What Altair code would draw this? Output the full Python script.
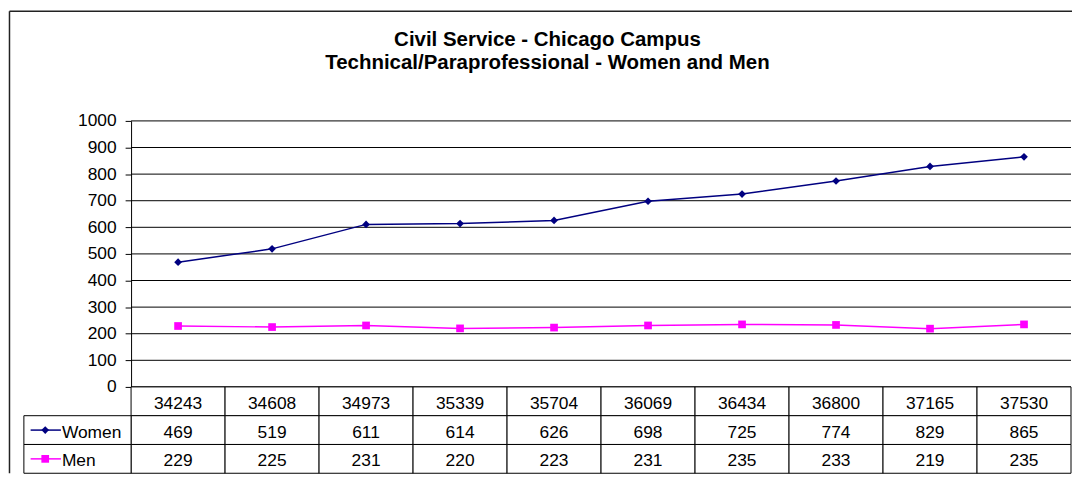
import altair as alt
import pandas as pd

# ---- data ----
years = ["34243", "34608", "34973", "35339", "35704", "36069", "36434", "36800", "37165", "37530"]
women = [469, 519, 611, 614, 626, 698, 725, 774, 829, 865]
men = [229, 225, 231, 220, 223, 231, 235, 233, 219, 235]
series_names = ["Women", "Men"]
series_colors = ["#000080", "#FF00FF"]
series_shapes = ["diamond", "square"]
y_ticks = list(range(0, 1001, 100))
title_lines = ["Civil Service - Chicago Campus", "Technical/Paraprofessional - Women and Men"]

# ---- layout constants ----
FONT = "Liberation Sans"
N = len(years)
PLOT_W = 1055
LABEL_W = 108
COL_W = (PLOT_W - LABEL_W) / N
X_MIN = -LABEL_W / COL_W
TOP_H = 268
TABLE_H = 87
FS = 17.5


def lx(p):
    """pixel offset inside the label column -> x data units"""
    return X_MIN + p / COL_W


values = {"Women": women, "Men": men}
long_df = pd.DataFrame(
    [{"series": s, "idx": i, "value": v} for s in series_names for i, v in enumerate(values[s])]
)
cells = pd.DataFrame(
    [{"row": "header", "idx": i, "text": y} for i, y in enumerate(years)]
    + [{"row": s, "idx": i, "text": str(v)} for s in series_names for i, v in enumerate(values[s])]
)
labels_df = pd.DataFrame({"series": series_names})
row_domain = ["header"] + series_names

x_scale = alt.Scale(domain=[X_MIN, N], nice=False, zero=False)
y_scale = alt.Scale(domain=[0, 1000], nice=False, zero=False)
color_scale = alt.Scale(domain=series_names, range=series_colors)
shape_scale = alt.Scale(domain=series_names, range=series_shapes)
row_scale = alt.Scale(domain=row_domain, paddingInner=0, paddingOuter=0)

y_axis = alt.Axis(
    values=y_ticks, format="d", offset=-LABEL_W, tickSize=6, tickColor="black", tickWidth=1,
    domainColor="black", domainWidth=1, labelFontSize=FS, labelColor="black",
    labelFont=FONT, labelPadding=9, grid=False, title=None,
)

# ---- top: line chart ----
grid = alt.Chart(pd.DataFrame({"v": y_ticks})).mark_rule(color="black", strokeWidth=1).encode(
    x=alt.XDatum(0, scale=x_scale, axis=None),
    x2=alt.X2Datum(N),
    y=alt.Y("v:Q", scale=y_scale, axis=y_axis),
)
base = alt.Chart(long_df).transform_calculate(xc="datum.idx + 0.5")
line = base.mark_line(strokeWidth=1.5).encode(
    x=alt.X("xc:Q", scale=x_scale, axis=None),
    y=alt.Y("value:Q", scale=y_scale, axis=y_axis),
    color=alt.Color("series:N", scale=color_scale, legend=None),
)
pts = base.mark_point(filled=True, opacity=1, size=60).encode(
    x=alt.X("xc:Q", scale=x_scale, axis=None),
    y=alt.Y("value:Q", scale=y_scale, axis=y_axis),
    color=alt.Color("series:N", scale=color_scale, legend=None),
    shape=alt.Shape("series:N", scale=shape_scale, legend=None),
)
top = alt.layer(grid, line, pts).properties(
    width=PLOT_W,
    height=TOP_H,
    title=alt.TitleParams(
        text=title_lines, fontSize=20.6, fontWeight="bold", font=FONT, color="black",
        anchor="middle", frame="group", baseline="bottom", offset=19, lineHeight=23,
    ),
)

# ---- bottom: data table ----
cell_base = alt.Chart(cells).transform_calculate(
    x0="datum.idx", x1="datum.idx + 1", xc="datum.idx + 0.5"
)
cell_rect = cell_base.mark_rect(fill="white", stroke="black", strokeWidth=1).encode(
    x=alt.X("x0:Q", scale=x_scale, axis=None),
    x2="x1:Q",
    y=alt.Y("row:N", scale=row_scale, axis=None),
)
cell_text = cell_base.mark_text(fontSize=FS, font=FONT, color="black", dy=2.5).encode(
    x=alt.X("xc:Q", scale=x_scale, axis=None),
    y=alt.Y("row:N", scale=row_scale, axis=None),
    text="text:N",
)
label_rect = alt.Chart(labels_df).mark_rect(fill="white", stroke="black", strokeWidth=1).encode(
    x=alt.XDatum(X_MIN, scale=x_scale, axis=None),
    x2=alt.X2Datum(0),
    y=alt.Y("series:N", scale=row_scale, axis=None),
)
label_text = alt.Chart(labels_df).mark_text(
    fontSize=FS, font=FONT, color="black", align="left", dy=2.5
).encode(
    x=alt.XDatum(lx(38.3), scale=x_scale, axis=None),
    y=alt.Y("series:N", scale=row_scale, axis=None),
    text="series:N",
)
key_rule = alt.Chart(labels_df).mark_rule(strokeWidth=1.5).encode(
    x=alt.XDatum(lx(6.8), scale=x_scale, axis=None),
    x2=alt.X2Datum(lx(37.3)),
    y=alt.Y("series:N", scale=row_scale, axis=None),
    color=alt.Color("series:N", scale=color_scale, legend=None),
)
key_pt = alt.Chart(labels_df).mark_point(filled=True, opacity=1, size=60).encode(
    x=alt.XDatum(lx(21.5), scale=x_scale, axis=None),
    y=alt.Y("series:N", scale=row_scale, axis=None),
    color=alt.Color("series:N", scale=color_scale, legend=None),
    shape=alt.Shape("series:N", scale=shape_scale, legend=None),
)
# chart-area frame (top and left edges), drawn relative to the table panel
one = pd.DataFrame({"a": [0]})
FRAME_TOP = -(TOP_H + 110.5)
frame_top = alt.Chart(one).mark_rule(color="#222222", strokeWidth=1.5).encode(
    x=alt.value(-14.5), x2=alt.value(PLOT_W + 1), y=alt.value(FRAME_TOP)
)
frame_left = alt.Chart(one).mark_rule(color="#222222", strokeWidth=1.5).encode(
    x=alt.value(-14.5), y=alt.value(FRAME_TOP), y2=alt.value(TABLE_H)
)
table = alt.layer(
    cell_rect, cell_text, label_rect, label_text, key_rule, key_pt, frame_top, frame_left
).properties(width=PLOT_W, height=TABLE_H)

chart = (
    alt.vconcat(top, table, spacing=0, bounds="flush")
    .properties(
        autosize=alt.AutoSizeParams(type="pad"),
        padding={"left": 0, "top": 0, "right": 0, "bottom": 0},
    )
    .configure(font=FONT, background="white")
    .configure_view(stroke="transparent", strokeWidth=0)
)

chart.save("out.html", embed_options={"renderer": "svg", "actions": False})
